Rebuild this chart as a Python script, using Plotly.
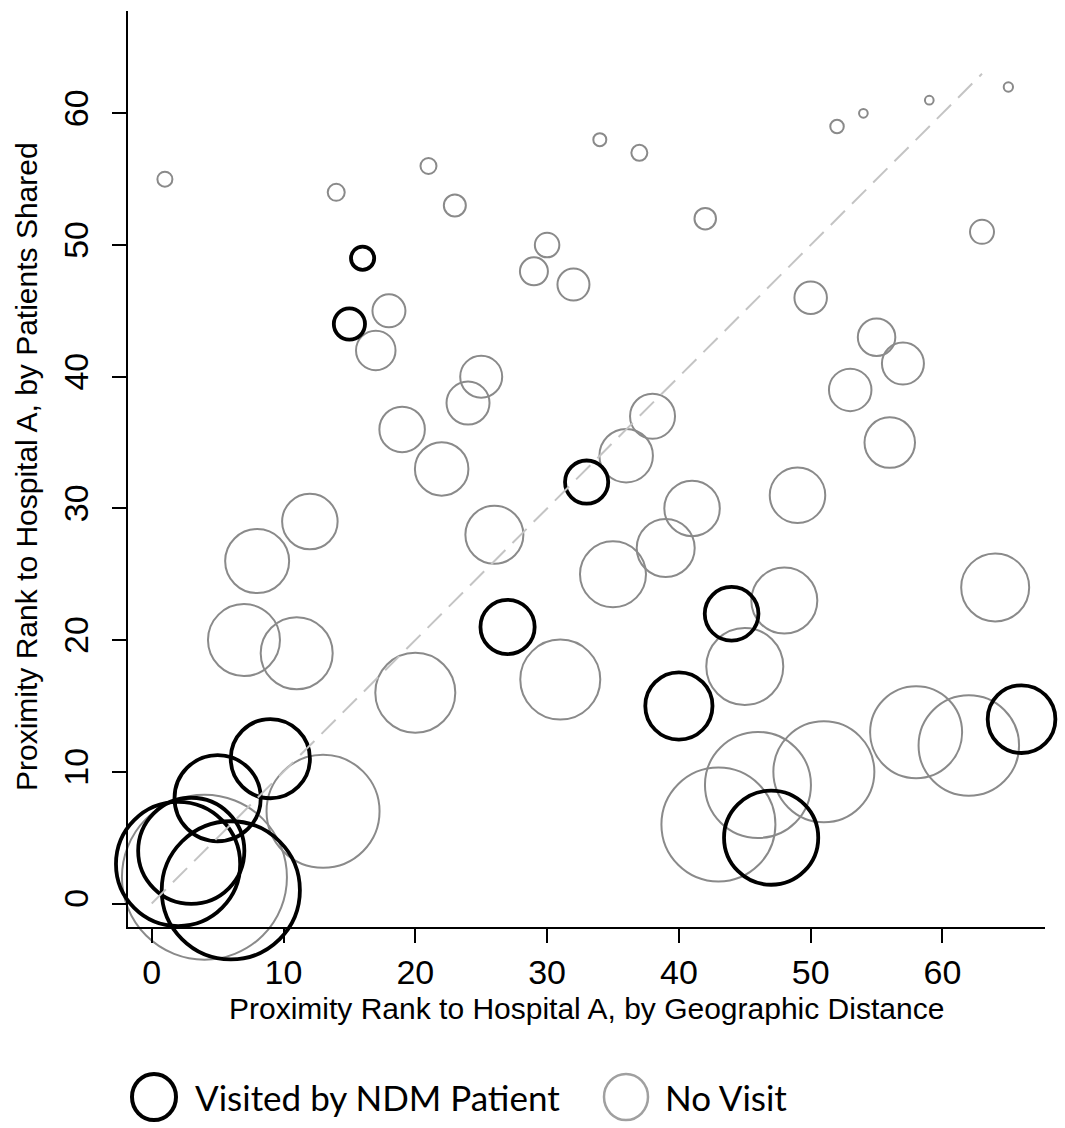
import plotly.graph_objects as go

# ---- data ----
# No visit (gray) hospitals: geographic rank, patients-shared rank, relative bubble size
novisit_geo = [1, 14, 21, 23, 34, 37, 42, 52, 54, 59, 65, 63, 18, 17, 29, 30, 32, 50, 55, 57,
               53, 56, 25, 24, 19, 22, 38, 36, 12, 8, 26, 41, 49, 39, 35, 64, 48, 7, 11, 20,
               31, 45, 58, 62, 51, 46, 43, 13, 4]
novisit_shared = [55, 54, 56, 53, 58, 57, 52, 59, 60, 61, 62, 51, 45, 42, 48, 50, 47, 46, 43, 41,
                  39, 35, 40, 38, 36, 33, 37, 34, 29, 26, 28, 30, 31, 27, 25, 24, 23, 20, 19, 16,
                  17, 18, 13, 12, 10, 9, 6, 7, 2]
novisit_size = [1.7, 1.9, 1.8, 2.4, 1.5, 1.8, 2.35, 1.55, 1.07, 1.07, 1.13, 2.6, 3.5, 4.15, 3.0, 2.65, 3.4, 3.45, 3.95, 4.4,
                4.45, 5.25, 4.4, 4.5, 4.75, 5.55, 4.7, 5.55, 5.75, 6.6, 6.0, 5.75, 5.75, 6.0, 6.8, 7.0, 6.8, 7.4, 7.4, 8.2,
                8.2, 7.9, 9.4, 10.25, 10.3, 10.8, 11.6, 11.5, 16.7]

# Visited by NDM patient (black)
visit_geo = [16, 15, 33, 44, 27, 40, 66, 47, 9, 5, 3, 2, 6]
visit_shared = [49, 44, 32, 22, 21, 15, 14, 5, 11, 8, 4, 3, 1]
visit_size = [2.7, 3.5, 4.7, 5.75, 5.8, 7.1, 7.15, 9.8, 8.3, 9.0, 11.0, 12.8, 14.2]

diag_x = [0, 63]
diag_y = [0, 63]

x_ticks = [0, 10, 20, 30, 40, 50, 60]
y_ticks = [0, 10, 20, 30, 40, 50, 60]

x_title = "Proximity Rank to Hospital A, by Geographic Distance"
y_title = "Proximity Rank to Hospital A, by Patients Shared"
legend_labels = ["Visited by NDM Patient", "No Visit"]

# ---- layout geometry ----
W, H = 1065, 1128
L, R, T, B = 128, 1045, 11, 927
GRAY = "#8a8a8a"
GRAY_W = 2.0
BLACK_W = 3.8
SCALE = 10.0  # px per size unit


def px_x(p):
    return (p - L) / (R - L)


def px_y(p):
    return (B - p) / (B - T)


fig = go.Figure()

fig.add_trace(go.Scatter(
    x=novisit_geo, y=novisit_shared, mode="markers",
    marker=dict(symbol="circle", color="rgba(0,0,0,0)", opacity=1,
                size=[s * SCALE - GRAY_W for s in novisit_size],
                line=dict(color=GRAY, width=GRAY_W)),
    cliponaxis=False, showlegend=False, hoverinfo="skip"))

fig.add_trace(go.Scatter(
    x=visit_geo, y=visit_shared, mode="markers",
    marker=dict(symbol="circle", color="rgba(0,0,0,0)", opacity=1,
                size=[s * SCALE - BLACK_W for s in visit_size],
                line=dict(color="black", width=BLACK_W)),
    cliponaxis=False, showlegend=False, hoverinfo="skip"))

fig.add_trace(go.Scatter(
    x=diag_x, y=diag_y, mode="lines",
    line=dict(color="#c4c4c4", width=2, dash="20px,10px"),
    showlegend=False, hoverinfo="skip"))

axis_common = dict(
    showgrid=False, zeroline=False, showline=True, linecolor="black", linewidth=2,
    ticks="outside", ticklen=14, tickwidth=2, tickcolor="black",
    tickfont=dict(family="Liberation Sans, Arial", size=34, color="black"),
)

fig.update_xaxes(range=[-1.80, 67.78], tickvals=x_ticks, ticktext=[str(v) for v in x_ticks],
                 ticklabelstandoff=0, **axis_common)
fig.update_yaxes(range=[-1.784, 67.77], tickvals=y_ticks, ticktext=[str(v) for v in y_ticks],
                 tickangle=-90, ticklabelstandoff=10, **axis_common)

annotations = [
    dict(text=x_title, x=px_x(586.5), y=px_y(1009), xref="paper", yref="paper",
         showarrow=False, xanchor="center", yanchor="middle",
         font=dict(family="Liberation Sans, Arial", size=30, color="black")),
    dict(text=y_title, x=px_x(26), y=px_y(467), xref="paper", yref="paper",
         showarrow=False, xanchor="center", yanchor="middle", textangle=-90,
         font=dict(family="Liberation Sans, Arial", size=30, color="black")),
    dict(text=legend_labels[0], x=px_x(193), y=px_y(1097), xref="paper", yref="paper",
         showarrow=False, xanchor="left", yanchor="middle",
         font=dict(family="Lato, Carlito, sans-serif", size=35, color="black")),
    dict(text=legend_labels[1], x=px_x(663), y=px_y(1097), xref="paper", yref="paper",
         showarrow=False, xanchor="left", yanchor="middle",
         font=dict(family="Lato, Carlito, sans-serif", size=35, color="black")),
]

shapes = [
    dict(type="circle", xref="paper", yref="paper", xsizemode="pixel", ysizemode="pixel",
         xanchor=px_x(154), yanchor=px_y(1097), x0=-22, x1=22, y0=-23, y1=23,
         line=dict(color="black", width=4)),
    dict(type="circle", xref="paper", yref="paper", xsizemode="pixel", ysizemode="pixel",
         xanchor=px_x(626), yanchor=px_y(1097), x0=-22, x1=22, y0=-23, y1=23,
         line=dict(color="#a0a0a0", width=2.5)),
]

fig.update_layout(
    width=W, height=H,
    margin=dict(l=L, r=W - R, t=T, b=H - B, pad=0),
    plot_bgcolor="white", paper_bgcolor="white",
    annotations=annotations, shapes=shapes,
    showlegend=False,
)

fig.write_html("out.html", config={"displayModeBar": False},
               post_script="document.body.style.margin='0px';")
